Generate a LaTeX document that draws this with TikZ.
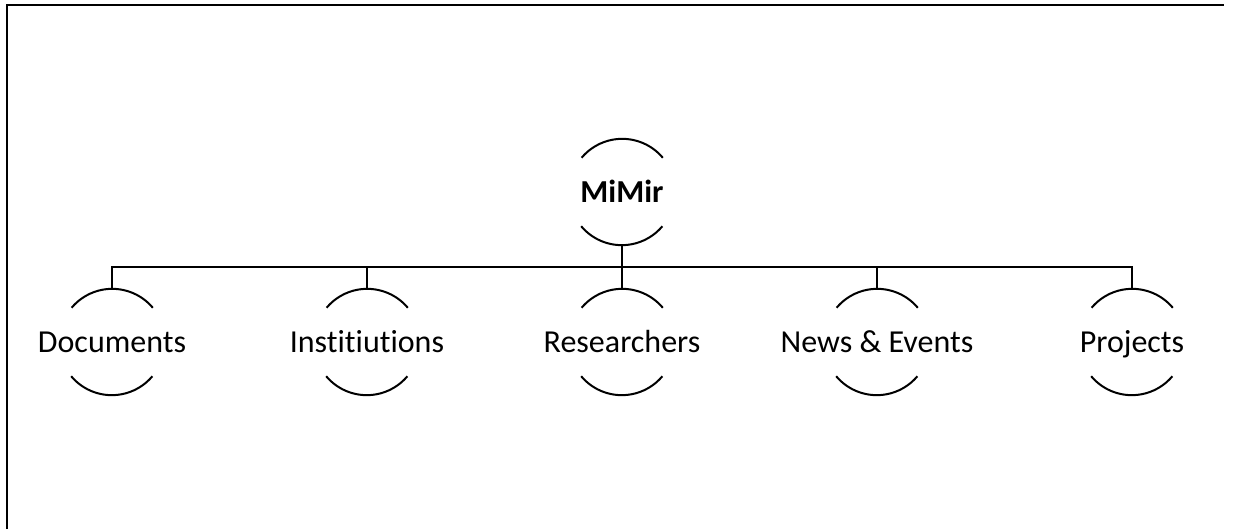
\documentclass[tikz,border=0pt]{standalone}
\usepackage{fontspec}
\setmainfont{Carlito}[Ligatures=NoCommon]
\usetikzlibrary{positioning}
\newcommand{\ctxt}[1]{\makebox[0pt]{#1}}
\tikzstyle{E} = [circle,
			minimum size=79.5pt, inner sep=0pt,
			text height=15.5pt, text depth=0pt,
			font=\fontsize{24}{28}\selectfont]
\tikzstyle{A} = [draw, line width=1.5pt]
\tikzstyle{L} = [draw, line width=1.5pt]

\begin{document}
\begin{tikzpicture}[x=0.75pt, y=0.75pt, node distance=191.25pt]

\useasboundingbox (0,0) rectangle (1233,529);

% frame
\draw[line width=1.5pt] (7,0) |- (1224,524);

\node [E]
(mimir) at (622,337)
	{\ctxt{\textbf{MiMir}}};

\node [E]
(doc) at (112,187)
	{\ctxt{Documents}};

\node [E, right of =doc]
(inst)
	{\ctxt{Institiutions}};

\node [E, right of =inst]
(res)
	{\ctxt{Researchers}};

\node [E, right of =res]
(news)
	{\ctxt{News \& Events}};

\node [E, right of =news]
(proj)
	{\ctxt{Projects}};

\coordinate (bus) at (622,262);

% broken circles
\foreach \n in {mimir,doc,inst,res,news,proj}
{
	\path[A] (\n.40) arc [start angle=40, end angle=140, radius=39.75pt];
	\path[A] (\n.220) arc [start angle=220, end angle=320, radius=39.75pt];
}

\path[L] (mimir.south) -- (res.north);

\path[L] (doc.north) |- (bus) -| (proj.north);

\path[L] (bus) -| (inst.north);

\path[L] (bus) -| (news.north);

\end{tikzpicture}
\end{document}
